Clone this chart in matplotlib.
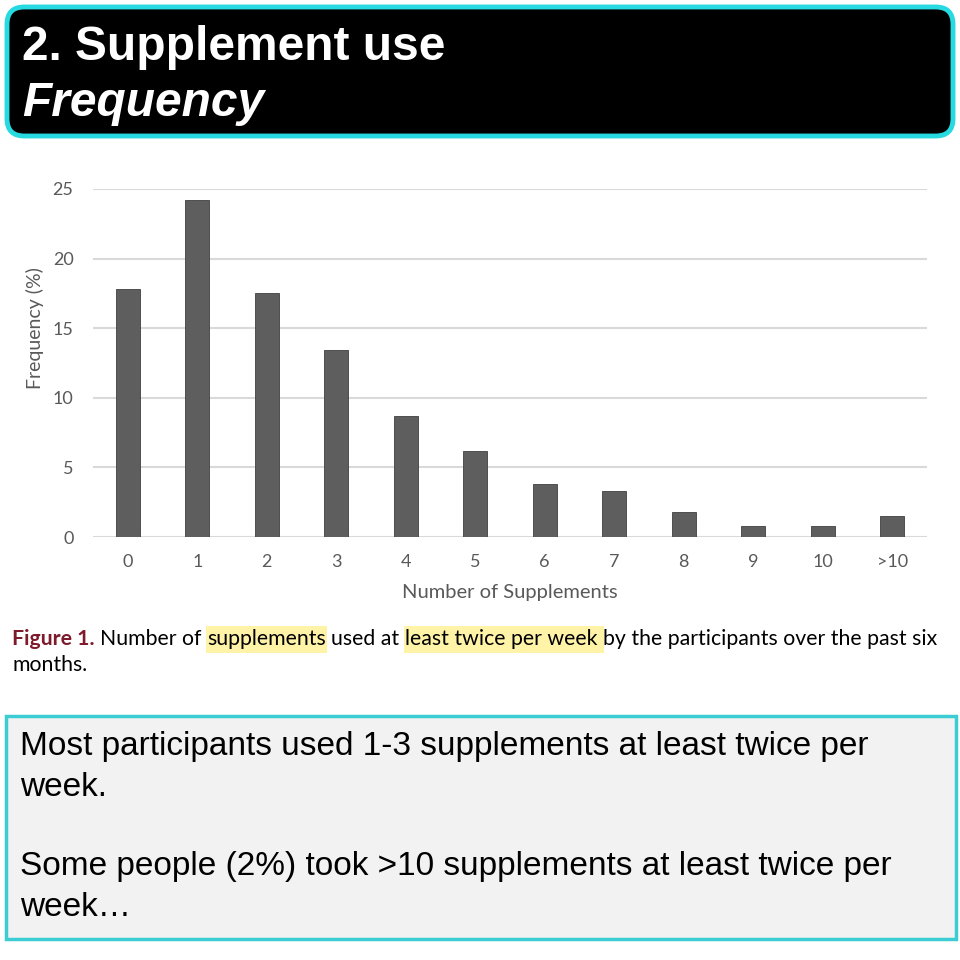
import matplotlib
matplotlib.use("Agg")
import matplotlib.pyplot as plt
from matplotlib.patches import FancyBboxPatch, Rectangle

# Figure 1 data: share of participants by number of supplements
categories = ["0", "1", "2", "3", "4", "5", "6", "7", "8", "9", "10", ">10"]
frequency = [17.8, 24.2, 17.5, 13.4, 8.7, 6.2, 3.8, 3.3, 1.8, 0.8, 0.8, 1.5]
y_ticks = [0, 5, 10, 15, 20, 25]

title_line1 = "2. Supplement use"
title_line2 = "Frequency"
caption_parts = [
    ("Figure 1.", "fig"),
    ("Number of", "txt"),
    ("supplements", "hl"),
    ("used at", "txt"),
    ("least twice per week", "hl"),
    ("by the participants over the past six", "txt"),
]
caption_line2 = "months."
notes = [
    "Most participants used 1-3 supplements at least twice per",
    "week.",
    "",
    "Some people (2%) took >10 supplements at least twice per",
    "week\u2026",
]

W = H = 960
DPI = 100
fig = plt.figure(figsize=(W / DPI, H / DPI), dpi=DPI)
CHART_FONT = ["Lato", "DejaVu Sans"]
BOX_FONT = ["Liberation Sans", "DejaVu Sans"]
GREY = "#595959"


def pos(x, y):
    # pixel coords (origin top-left) -> figure fraction
    return x / W, 1 - y / H


# title banner
banner = FancyBboxPatch(pos(7, 136), (953 - 7) / W, (136 - 7) / H,
                        boxstyle="round,pad=0,rounding_size=0.018",
                        transform=fig.transFigure, facecolor="black",
                        edgecolor="#27d9e0", linewidth=3.5)
fig.patches.append(banner)
fig.text(*pos(22, 48), title_line1, color="white", fontsize=34.5,
         fontweight="bold", family=BOX_FONT, va="center", ha="left")
fig.text(*pos(22, 104), title_line2, color="white", fontsize=34.5,
         fontweight="bold", style="italic", family=BOX_FONT,
         va="center", ha="left")

# bar chart
ax = fig.add_axes([93 / W, 1 - 537 / H, (927 - 93) / W, (537 - 189) / H])
ax.bar(range(len(categories)), frequency, width=0.35, color="#5e5e5e",
       edgecolor="#404040", linewidth=0.6, zorder=3)
ax.set_xlim(-0.5, len(categories) - 0.5)
ax.set_ylim(0, 25)
ax.set_yticks(y_ticks)
ax.set_xticks(range(len(categories)))
ax.set_xticklabels(categories)
ax.yaxis.grid(True, color="#d9d9d9", linewidth=1.5, zorder=0)
ax.set_axisbelow(True)
for s in ax.spines.values():
    s.set_visible(False)
ax.tick_params(axis="both", length=0, colors=GREY, labelsize=13)
ax.tick_params(axis="x", pad=12)
ax.tick_params(axis="y", pad=14)
for lab in ax.get_xticklabels() + ax.get_yticklabels():
    lab.set_family(CHART_FONT)
ax.set_xlabel("Number of Supplements", fontsize=14.5, color=GREY,
              family=CHART_FONT, labelpad=10)
fig.text(*pos(35, 328), "Frequency (%)", rotation=90, fontsize=14,
         color=GREY, family=CHART_FONT, ha="center", va="center")

# caption, laid out piece by piece
renderer = fig.canvas.get_renderer()
cap_size = 15.3
probe_a = fig.text(0, 0, "aa", fontsize=cap_size, family=CHART_FONT)
probe_b = fig.text(0, 0, "a a", fontsize=cap_size, family=CHART_FONT)
space = (probe_b.get_window_extent(renderer).width
         - probe_a.get_window_extent(renderer).width)
probe_a.remove()
probe_b.remove()

cx = 12
cy = 639
for text, kind in caption_parts:
    kw = dict(fontsize=cap_size, family=CHART_FONT, va="center", ha="left")
    if kind == "fig":
        kw.update(color="#7d1a2c", fontweight="bold")
    else:
        kw.update(color="black")
    t = fig.text(*pos(cx, cy), text, zorder=3, **kw)
    w = t.get_window_extent(renderer).width
    if kind == "hl":
        extra = space if text.endswith("week") else 0
        fig.patches.append(Rectangle(pos(cx - 1, 653), (w + 2 + extra) / W,
                                     27 / H, transform=fig.transFigure,
                                     facecolor="#fff3a8", edgecolor="none",
                                     zorder=1))
    cx += w + space
fig.text(*pos(12, 665), caption_line2, fontsize=cap_size, family=CHART_FONT,
         color="black", va="center", ha="left")

# notes box
fig.patches.append(Rectangle(pos(6, 939), (956 - 6) / W, (939 - 716) / H,
                             transform=fig.transFigure, facecolor="#f2f2f2",
                             edgecolor="#3ccdd4", linewidth=2.5))
for i, line in enumerate(notes):
    fig.text(*pos(20, 747 + 40 * i), line, fontsize=24, family=BOX_FONT,
             color="black", va="center", ha="left")

fig.savefig("out.png", dpi=DPI, facecolor="white")
